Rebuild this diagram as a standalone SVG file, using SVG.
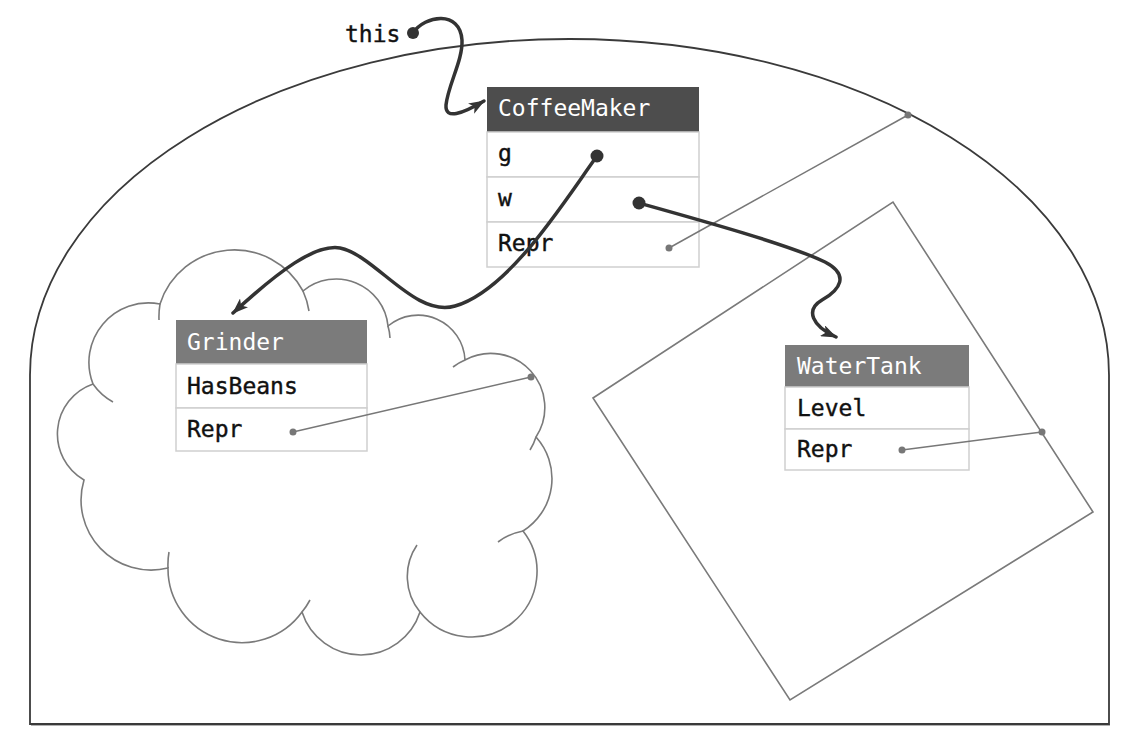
<svg xmlns="http://www.w3.org/2000/svg" width="1138" height="746" viewBox="0 0 1138 746">
<defs>
<style>
.outer{fill:none;stroke:#3a3a3a;stroke-width:1.8}
.shape{fill:none;stroke:#7a7a7a;stroke-width:1.6}
.cell{fill:#ffffff;stroke:#cfcfcf;stroke-width:1.5}
.hdark{fill:#4d4d4d}
.hlight{fill:#7b7b7b}
.t{font-family:"DejaVu Sans Mono","Liberation Mono",monospace;font-size:23px;fill:#111;stroke:#111;stroke-width:0.4}
.th{font-family:"DejaVu Sans Mono","Liberation Mono",monospace;font-size:23px;fill:#ffffff}
.ptr{fill:none;stroke:#333;stroke-width:3.5;stroke-linecap:round}
.repr{fill:none;stroke:#777;stroke-width:1.5}
.dot{fill:#333}
.sdot{fill:#777}
</style>
<marker id="ah" viewBox="0 0 16 12" markerWidth="16" markerHeight="12" refX="15" refY="6" orient="auto" markerUnits="userSpaceOnUse">
<path d="M0,0 L16,6 L0,12 L4,6 Z" fill="#333"/>
</marker>
</defs>
<rect width="1138" height="746" fill="#ffffff"/>
<path d="M31,725 L1110,725" stroke="#b0b0b0" stroke-width="2" fill="none"/>
<path class="outer" d="M30,724 L30,375 A539.5,336 0 0 1 1109,375 L1109,724 Z"/>
<g id="cloud">
<path class="shape" d="M160,304 A78,78 0 0 1 303,291 A52,52 0 0 1 388,326 A47,47 0 0 1 465,360 A54,54 0 0 1 536,437 A62,62 0 0 1 523,531 A60,60 0 0 1 420,612 A62,62 0 0 1 302,612 A74,74 0 0 1 168,568 A70,70 0 0 1 84,480 A53,53 0 0 1 93,384 A59.5,59.5 0 0 1 160,304 Z"/>
<path class="shape" d="M160,304 A78,78 0 0 0 159,320 M303,291 A78,78 0 0 1 309,311 M388,326 A52,52 0 0 1 390,338 M453,367 A54,54 0 0 1 465,360 M536,437 A54,54 0 0 1 530,450 M498,542 A60,60 0 0 1 523,531 M420,612 A56,56 0 0 1 417,545 M302,612 A74,74 0 0 0 310,600 M168,568 A74,74 0 0 1 169,552 M93,384 A59.5,59.5 0 0 0 113,402"/>
</g>
<g id="tank-region">
<path class="shape" d="M593,398 L893,202 L1093,512 L790,700 Z"/>
</g>
<g id="CoffeeMaker">
<rect class="hdark" x="487" y="87" width="212" height="45"/>
<rect class="cell" x="487" y="132" width="212" height="45"/>
<rect class="cell" x="487" y="177" width="212" height="45"/>
<rect class="cell" x="487" y="222" width="212" height="45"/>
<text class="th" x="498" y="116">CoffeeMaker</text>
<text class="t" x="498" y="161">g</text>
<text class="t" x="498" y="206">w</text>
<text class="t" x="498" y="251">Repr</text>
</g>
<g id="Grinder">
<rect class="hlight" x="176" y="320" width="191" height="44"/>
<rect class="cell" x="176" y="364" width="191" height="44"/>
<rect class="cell" x="176" y="408" width="191" height="43"/>
<text class="th" x="187" y="350">Grinder</text>
<text class="t" x="187" y="394">HasBeans</text>
<text class="t" x="187" y="437">Repr</text>
</g>
<g id="WaterTank">
<rect class="hlight" x="785" y="345" width="184" height="42"/>
<rect class="cell" x="785" y="387" width="184" height="42"/>
<rect class="cell" x="785" y="429" width="184" height="41"/>
<text class="th" x="797" y="374">WaterTank</text>
<text class="t" x="797" y="416">Level</text>
<text class="t" x="797" y="457">Repr</text>
</g>
<g id="this-label">
<text class="t" x="345" y="42">this</text>
</g>
<g id="connectors">
<path class="repr" d="M669,248 L908,115"/>
<circle class="sdot" cx="669" cy="248" r="3.5"/>
<circle class="sdot" cx="908" cy="115" r="3.5"/>
<path class="repr" d="M293,432 L531,377"/>
<circle class="sdot" cx="293" cy="432" r="3.5"/>
<circle class="sdot" cx="531" cy="377" r="3.5"/>
<path class="repr" d="M902,450 L1042,432"/>
<circle class="sdot" cx="902" cy="450" r="3.5"/>
<circle class="sdot" cx="1042" cy="432" r="3.5"/>
<path class="ptr" marker-end="url(#ah)" d="M413,33 C425,15 460,10 462,40 C463,60 448,85 446,105 C445,120 462,114 484,101"/>
<circle class="dot" cx="413" cy="33" r="6"/>
<path class="ptr" marker-end="url(#ah)" d="M597,156 C565,200 510,290 455,306 C415,318 375,255 340,248 C315,244 280,270 233,313"/>
<circle class="dot" cx="597" cy="156" r="6.5"/>
<path class="ptr" marker-end="url(#ah)" d="M639,203 C700,220 790,245 825,262 C850,275 840,290 822,300 C805,310 812,326 836,337"/>
<circle class="dot" cx="639" cy="203" r="6.5"/>
</g>
</svg>
